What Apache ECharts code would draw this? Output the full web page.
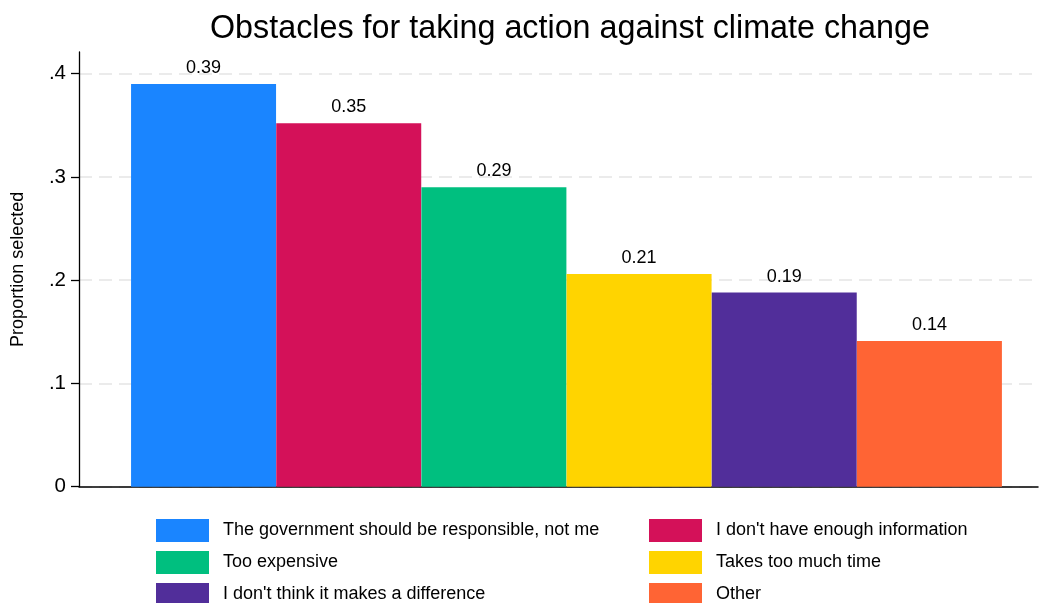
<!DOCTYPE html>
<html>
<head>
<meta charset="utf-8">
<style>
  html, body { margin: 0; padding: 0; background: #fff; }
  #chart { width: 1039px; height: 603px; }
</style>
<script src="https://cdn.jsdelivr.net/npm/echarts@6/dist/echarts.min.js"></script>
</head>
<body>
<div id="chart"></div>
<script>
// Obstacles for taking action against climate change: share of respondents selecting each reason
const categories = [
  "The government should be responsible, not me",
  "I don't have enough information",
  "Too expensive",
  "Takes too much time",
  "I don't think it makes a difference",
  "Other"
];
const proportions = [0.390, 0.352, 0.290, 0.206, 0.188, 0.141];
const barColors = ["#1a85ff", "#d41159", "#00bf7f", "#ffd400", "#512e9a", "#ff6434"];
const yTicks = [0, 0.1, 0.2, 0.3, 0.4];
const yTickLabels = ["0", ".1", ".2", ".3", ".4"];

const FONT = "'Liberation Sans', Arial, Helvetica, sans-serif";

const chart = echarts.init(document.getElementById('chart'), null, { renderer: 'canvas' });

// one series per reason so each gets its own legend key; bars sit side by side at x = 0..5
const series = categories.map((name, i) => ({
  name: name,
  type: 'bar',
  barWidth: 145,
  barGap: '-100%',
  itemStyle: { color: barColors[i] },
  label: {
    show: true,
    position: 'top',
    distance: 7,
    color: '#000',
    fontFamily: FONT,
    fontSize: 18,
    formatter: p => p.value[1].toFixed(2)
  },
  emphasis: { disabled: true },
  data: [[i, proportions[i]]]
}));

const legendText = {
  color: '#000',
  fontFamily: FONT,
  fontSize: 18,
  padding: [0, 0, 0, 9]
};

// legend laid out as two columns of three keys
const legendBase = {
  orient: 'vertical',
  top: 519,
  height: 140,
  padding: 0,
  itemWidth: 53,
  itemHeight: 23,
  itemGap: 9,
  icon: 'rect',
  selectedMode: false,
  textStyle: legendText
};

chart.setOption({
  animation: false,
  backgroundColor: '#fff',
  title: {
    text: 'Obstacles for taking action against climate change',
    left: 205,
    top: 8,
    textStyle: { fontFamily: FONT, fontSize: 32.3, fontWeight: 'normal', color: '#000' }
  },
  legend: [
    Object.assign({}, legendBase, { left: 156, data: [categories[0], categories[2], categories[4]] }),
    Object.assign({}, legendBase, { left: 649, data: [categories[1], categories[3], categories[5]] })
  ],
  grid: { left: 79, right: 1, top: 52, bottom: 116.3, containLabel: false },
  xAxis: {
    type: 'value',
    min: -0.858,
    max: 5.748,
    axisLine: { show: true, onZero: false, lineStyle: { color: '#000', width: 1.5 } },
    axisTick: { show: false },
    axisLabel: { show: false },
    splitLine: { show: false }
  },
  yAxis: {
    type: 'value',
    min: 0,
    max: 0.421,
    interval: 0.1,
    name: 'Proportion selected',
    nameLocation: 'middle',
    nameGap: 52,
    nameRotate: 90,
    nameTextStyle: { fontFamily: FONT, fontSize: 18, color: '#000' },
    axisLine: { show: true, onZero: false, lineStyle: { color: '#000', width: 1.3 } },
    axisTick: {
      show: true, inside: false, length: 8,
      customValues: yTicks,
      lineStyle: { color: '#000', width: 1.3 }
    },
    axisLabel: {
      margin: 13,
      fontFamily: FONT,
      fontSize: 20.5,
      color: '#000',
      customValues: yTicks,
      formatter: v => {
        const k = yTicks.findIndex(t => Math.abs(t - v) < 1e-9);
        return k >= 0 ? yTickLabels[k] : '';
      }
    },
    splitLine: {
      show: true,
      lineStyle: { color: '#ebebeb', width: 2, type: [13, 7] }
    }
  },
  series: series
});
</script>
</body>
</html>
